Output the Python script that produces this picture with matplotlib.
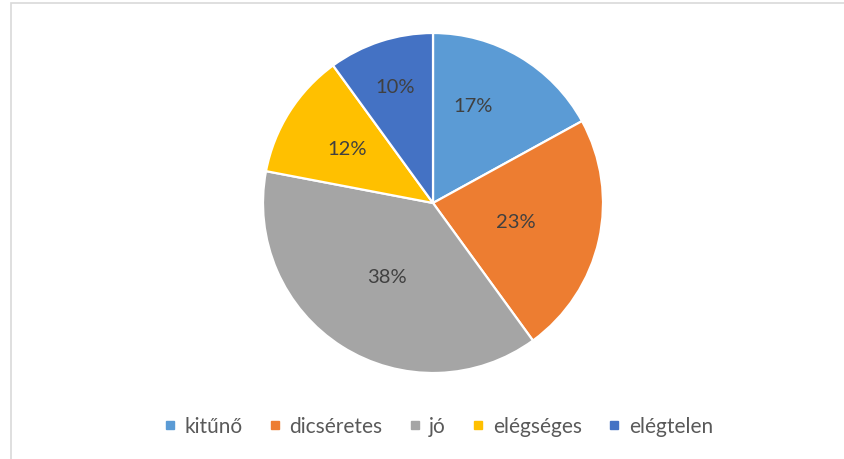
import matplotlib
matplotlib.use("Agg")
import matplotlib.pyplot as plt
from matplotlib.lines import Line2D
from matplotlib.patches import Rectangle
import numpy as np

categories = ["kitűnő", "dicséretes", "jó", "elégséges", "elégtelen"]
values = [17, 23, 38, 12, 10]
colors = ["#5B9BD5", "#ED7D31", "#A5A5A5", "#FFC000", "#4472C4"]
label_radius = [0.62, 0.50, 0.51, 0.60, 0.72]
label_angle_shift = [8, 0, 0, 0, 0]

plt.rcParams['font.family'] = ['Lato', 'DejaVu Sans']

W, H = 844, 460
fig = plt.figure(figsize=(W / 100, H / 100), dpi=100)
fig.patch.set_facecolor("white")

# chart border (only top and left visible in the crop)
fig.add_artist(Rectangle((11 / W, -0.5), 2, 0.5 + (H - 4) / H, transform=fig.transFigure,
                         fill=False, edgecolor="#D9D9D9", linewidth=1.2))

cx, cy, r = 433, 204, 170
ax = fig.add_axes([(cx - r) / W, (H - cy - r) / H, 2 * r / W, 2 * r / H])
wedges, _ = ax.pie(values, colors=colors, startangle=90, counterclock=False,
                   wedgeprops=dict(edgecolor="white", linewidth=1.6), radius=1.0)
total = sum(values)
for w, v, d, s in zip(wedges, values, label_radius, label_angle_shift):
    ang = np.deg2rad((w.theta1 + w.theta2) / 2 + s)
    ax.text(d * np.cos(ang), d * np.sin(ang), f"{v / total * 100:.0f}%",
            ha="center", va="center", fontsize=14.5, color="#404040")
ax.set_xlim(-1, 1)
ax.set_ylim(-1, 1)
ax.set_aspect("equal")
ax.axis("off")

handles = [Line2D([], [], marker="s", linestyle="none", markersize=6,
                  markerfacecolor=c, markeredgecolor=c) for c in colors]
fig.legend(handles, categories, loc="center", bbox_to_anchor=(436 / W, 1 - 427 / H),
           ncol=5, frameon=False, fontsize=15, handletextpad=0.2, columnspacing=1.05,
           handlelength=1.0, labelcolor="#595959")

fig.savefig("out.png", dpi=100, facecolor="white")
